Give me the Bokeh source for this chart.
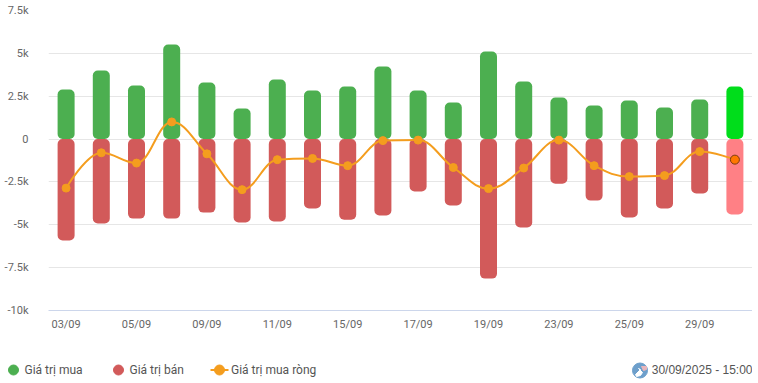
from bokeh.plotting import figure
from bokeh.layouts import column
from bokeh.core.properties import value
from bokeh.models import Range1d, FixedTicker
from bokeh.embed import file_html
from bokeh.resources import INLINE

dates = ["03/09","04/09","05/09","08/09","09/09","10/09","11/09","12/09","15/09","16/09",
         "17/09","18/09","19/09","22/09","23/09","24/09","25/09","26/09","29/09","30/09"]
buy = [2890,4000,3120,5510,3300,1780,3470,2830,3060,4230,2830,2130,5105,3355,2420,1955,2245,1840,2305,3060]
sell = [-5920,-4930,-4640,-4640,-4290,-4870,-4810,-4055,-4700,-4460,-3060,-3880,-8140,-5160,-2600,-3590,-4580,-4055,-3180,-4400]
net = [-2860,-800,-1400,1000,-860,-2950,-1200,-1130,-1550,-90,-60,-1660,-2890,-1690,-60,-1550,-2190,-2130,-730,-1200]
y_ticks = [7500,5000,2500,0,-2500,-5000,-7500,-10000]
y_labels = ["7.5k","5k","2.5k","0","-2.5k","-5k","-7.5k","-10k"]
x_tick_idx = list(range(0,20,2))
legend_labels = ["Giá trị mua", "Giá trị bán", "Giá trị mua ròng"]
timestamp = "30/09/2025 - 15:00"
GREEN, RED, ORANGE = "#4CAF50", "#D25A5A", "#F49D1E"
GREEN_H, RED_H, ORANGE_H = "#00DD1B", "#FF8085", "#FF7700"
FONT = "Roboto"

n = len(dates)
xs = list(range(n))

def spline(px, py):
    """Highcharts-style spline control points."""
    sm, den = 1.5, 2.5
    lc, rc = [], []
    for i in range(n):
        if i == 0 or i == n-1:
            lc.append((px[i], py[i])); rc.append((px[i], py[i])); continue
        lx = (sm*px[i]+px[i-1])/den; ly = (sm*py[i]+py[i-1])/den
        rx = (sm*px[i]+px[i+1])/den; ry = (sm*py[i]+py[i+1])/den
        c = (ry-ly)*(rx-px[i])/(rx-lx)+py[i]-ry
        ly += c; ry += c
        if ly > py[i-1] and ly > py[i]:
            ly = max(py[i-1], py[i]); ry = 2*py[i]-ly
        elif ly < py[i-1] and ly < py[i]:
            ly = min(py[i-1], py[i]); ry = 2*py[i]-ly
        if ry > py[i+1] and ry > py[i]:
            ry = max(py[i+1], py[i]); ly = 2*py[i]-ry
        elif ry < py[i+1] and ry < py[i]:
            ry = min(py[i+1], py[i]); ly = 2*py[i]-ry
        lc.append((lx, ly)); rc.append((rx, ry))
    return lc, rc

p = figure(width=752, height=345, output_backend="svg", toolbar_location=None,
           margin=(0,0,0,0), frame_align=False,
           x_range=Range1d(-0.5, n-0.5), y_range=Range1d(-10000, 7500),
           frame_width=704, frame_height=300,
           min_border_left=48, min_border_right=0, min_border_top=10, min_border_bottom=35,
           outline_line_color=None, background_fill_color="white", border_fill_color="white")

p.xgrid.visible = False
p.ygrid.grid_line_color = "#E6E6E6"
p.ygrid.ticker = FixedTicker(ticks=y_ticks)

p.yaxis.ticker = FixedTicker(ticks=y_ticks)
p.yaxis.major_label_overrides = dict(zip(y_ticks, y_labels))
p.yaxis.axis_line_color = None
p.yaxis.major_tick_line_color = None
p.yaxis.minor_tick_line_color = None
p.yaxis.major_label_standoff = 14
p.yaxis.major_label_text_color = "#666666"
p.yaxis.major_label_text_font = FONT
p.yaxis.major_label_text_font_size = "11px"

p.xaxis.ticker = FixedTicker(ticks=x_tick_idx)
p.xaxis.major_label_overrides = {i: dates[i] for i in x_tick_idx}
p.xaxis.axis_line_color = "#CCD6EB"
p.xaxis.major_tick_line_color = None
p.xaxis.minor_tick_line_color = None
p.xaxis.major_label_standoff = 1
p.xaxis.major_label_text_color = "#666666"
p.xaxis.major_label_text_font = FONT
p.xaxis.major_label_text_font_size = "11px"

bar_w = 17/35.2
buy_cols = [GREEN]*(n-1)+[GREEN_H]
sell_cols = [RED]*(n-1)+[RED_H]
p.vbar(x=xs, top=buy, bottom=0, width=bar_w, color=buy_cols, line_color=None, border_radius=5)
p.vbar(x=xs, top=0, bottom=sell, width=bar_w, color=sell_cols, line_color=None, border_radius=5)

lc, rc = spline(xs, net)
p.bezier(x0=xs[:-1], y0=net[:-1], x1=xs[1:], y1=net[1:],
         cx0=[c[0] for c in rc[:-1]], cy0=[c[1] for c in rc[:-1]],
         cx1=[c[0] for c in lc[1:]], cy1=[c[1] for c in lc[1:]],
         line_color=ORANGE, line_width=2)
p.scatter(xs[:-1], net[:-1], size=8, marker="circle", color=ORANGE)
p.scatter(xs[-1:], net[-1:], size=9, marker="circle", fill_color=ORANGE_H, line_color="#7A3A10", line_width=1)

# legend strip: its own figure, with one data unit per page pixel
q = figure(width=752, height=38, output_backend="svg", toolbar_location=None, margin=(0,0,0,0),
           frame_align=False, frame_width=752, frame_height=38,
           x_range=Range1d(0, 752), y_range=Range1d(383, 345),
           min_border_left=0, min_border_right=0, min_border_top=0, min_border_bottom=0,
           outline_line_color=None, background_fill_color="white", border_fill_color="white")
q.axis.visible = False
q.grid.visible = False

def qtext(x, s, align="left", font=FONT):
    q.text([x], [369.5], text=[s], text_align=align, text_baseline="middle",
           text_font=value(font), text_font_size="12px", text_color="#555555")

q.scatter([13], [369.5], size=10, marker="circle", color=GREEN)
qtext(24, legend_labels[0])
q.scatter([118], [369.5], size=10, marker="circle", color=RED)
qtext(129, legend_labels[1])
q.line([210, 228], [369.5, 369.5], line_color=ORANGE, line_width=2)
q.scatter([219], [369.5], size=10, marker="circle", color=ORANGE)
qtext(230.5, legend_labels[2])

# logo and timestamp
q.scatter([639.5], [370], size=15, marker="circle", color="#6D9FCB")
q.patch([635, 640, 638, 642, 640, 636], [374, 369, 368, 372, 375, 376], color="white")
q.patch([641, 646, 646, 643], [366, 366, 369, 370], color="#E8B6BC")
qtext(752, timestamp, "right", "Liberation Sans")

open("out.html", "w").write(file_html(column(p, q, spacing=0, margin=(0,0,0,0)), INLINE))
